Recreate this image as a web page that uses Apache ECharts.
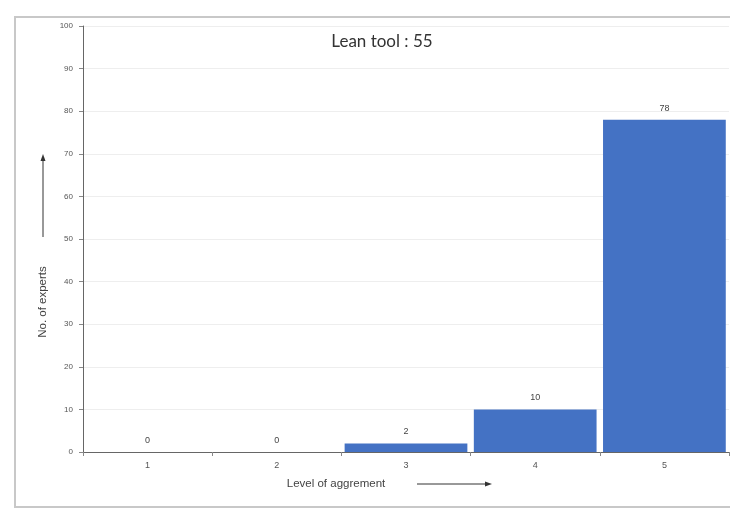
<!DOCTYPE html>
<html><head><meta charset="utf-8">
<script src="https://cdn.jsdelivr.net/npm/echarts@6/dist/echarts.min.js"></script>
<style>html,body{margin:0;padding:0;background:#fff}#c{width:730px;height:509px}</style>
</head><body><div id="c"></div>
<script>
const categories = ['1','2','3','4','5'];
const experts = [0, 0, 2, 10, 78];
const titleText = 'Lean tool : 55';
const yName = 'No. of experts';
const xName = 'Level of aggrement';

const chart = echarts.init(document.getElementById('c'));
chart.setOption({
  animation: false,
  backgroundColor: '#fff',
  title: {text: titleText, left: 377, top: 28, textAlign: 'center',
    textStyle: {fontFamily: 'Lato', fontSize: 17, fontWeight: 'normal', color: '#333'}},
  grid: {left: 83, right: 1, top: 26, bottom: 57},
  xAxis: {type: 'category', data: categories,
    axisLine: {lineStyle: {color: '#666', width: 1}},
    axisTick: {show: true, alignWithLabel: false, length: 4, lineStyle: {color: '#888'}},
    axisLabel: {color: '#555', fontSize: 9, margin: 9, fontFamily: 'Liberation Sans'}},
  yAxis: {type: 'value', min: 0, max: 100, interval: 10,
    axisLine: {show: true, lineStyle: {color: '#666', width: 1}},
    axisTick: {show: true, length: 4, lineStyle: {color: '#888'}},
    axisLabel: {color: '#555', fontSize: 8, margin: 10, fontFamily: 'Liberation Sans'},
    splitLine: {lineStyle: {color: '#eeeeee', width: 1}}},
  series: [{type: 'bar', data: experts, barCategoryGap: '5%',
    itemStyle: {color: '#4472C4'},
    label: {show: true, position: 'top', color: '#444', fontSize: 9, distance: 7, fontFamily: 'Liberation Sans'}}],
  graphic: [
    {type: 'rect', shape: {x: 15, y: 17, width: 740, height: 490}, style: {fill: 'none', stroke: '#c8c8c8', lineWidth: 2}, silent: true, z: -1},
    {type: 'text', x: 43, y: 302, rotation: Math.PI/2, style: {text: yName, fill: '#444', font: '11.5px Liberation Sans', textAlign: 'center', textVerticalAlign: 'middle'}},
    {type: 'line', shape: {x1: 43, y1: 237, x2: 43, y2: 158}, style: {stroke: '#333', lineWidth: 1}},
    {type: 'polygon', shape: {points: [[43, 154], [40.5, 161], [45.5, 161]]}, style: {fill: '#333'}},
    {type: 'text', x: 336, y: 484, style: {text: xName, fill: '#444', font: '11.5px Liberation Sans', textAlign: 'center', textVerticalAlign: 'middle'}},
    {type: 'line', shape: {x1: 417, y1: 484, x2: 488, y2: 484}, style: {stroke: '#333', lineWidth: 1}},
    {type: 'polygon', shape: {points: [[492, 484], [485, 481.5], [485, 486.5]]}, style: {fill: '#333'}}
  ]
});
</script></body></html>
